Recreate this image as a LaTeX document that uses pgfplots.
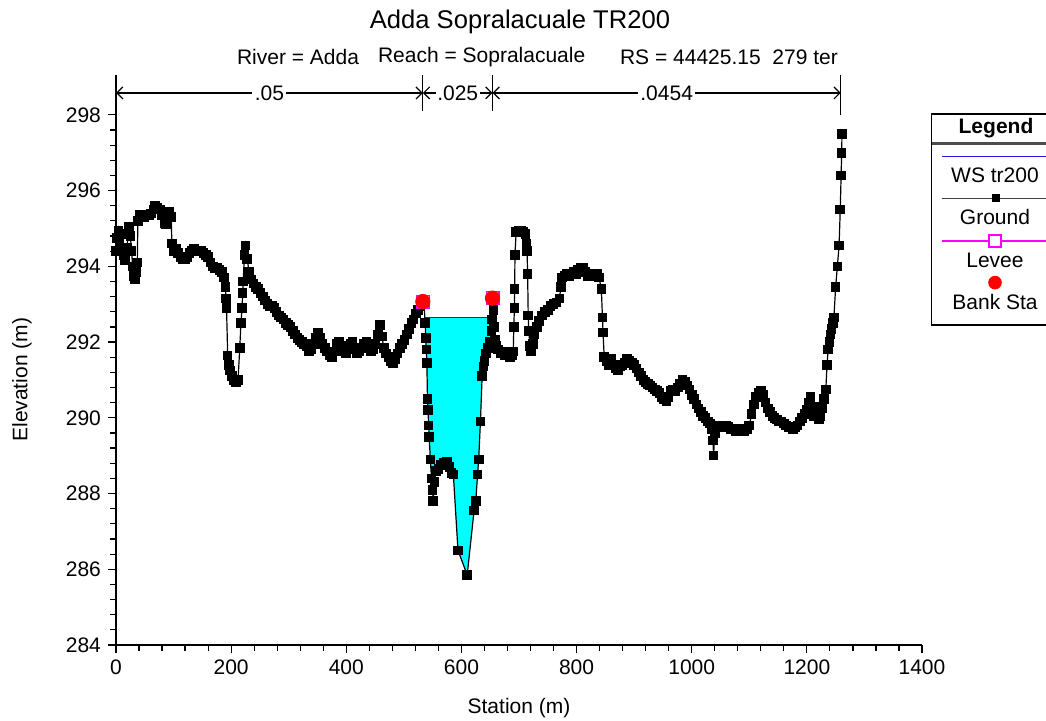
\documentclass[border=0pt]{standalone}
\usepackage{fontspec}
\setmainfont{Liberation Sans}
\usepackage{pgfplots}
\usepackage{pgfplotstable}
\pgfplotsset{compat=1.18}
\usetikzlibrary{arrows.meta}
\definecolor{wsblue}{RGB}{30,30,230}
\definecolor{watercyan}{RGB}{0,255,255}
\definecolor{leveemag}{RGB}{255,0,255}

\pgfplotstableread{
x y
0 294.40
2 294.75
4 294.95
6 294.60
8 294.85
10 294.50
13 294.30
16 294.15
19 294.50
21 294.85
23 295.05
25 294.80
27 294.40
29 294.00
31 293.75
33 293.65
35 293.85
37 294.10
38 295.20
41 295.35
45 295.30
49 295.30
53 295.35
57 295.35
61 295.40
65 295.50
68 295.60
72 295.55
76 295.50
80 295.35
84 295.15
87 295.10
90 295.40
93 295.45
96 295.30
97 294.60
100 294.40
104 294.45
108 294.35
112 294.25
116 294.20
120 294.20
124 294.25
128 294.35
132 294.40
136 294.45
140 294.40
144 294.40
148 294.40
152 294.35
156 294.30
160 294.25
164 294.10
168 294.00
172 293.95
176 293.95
180 293.90
184 293.85
188 293.70
190 293.45
191 293.15
192 292.90
194 291.65
196 291.40
198 291.25
201 291.10
204 291.00
208 290.95
212 291.00
215 291.85
217 292.50
219 292.90
220 293.30
221 293.60
223 294.30
225 294.55
228 294.20
231 293.85
235 293.65
239 293.55
243 293.45
247 293.40
251 293.30
255 293.20
259 293.10
263 293.00
267 292.95
271 292.95
275 292.90
279 292.80
283 292.70
287 292.65
291 292.60
295 292.50
299 292.45
303 292.40
307 292.30
311 292.20
315 292.10
319 292.05
323 292.00
327 291.95
331 291.90
335 291.75
339 291.80
343 291.95
347 292.10
351 292.25
355 292.10
359 291.95
363 291.85
367 291.75
371 291.65
375 291.60
379 291.75
383 291.95
387 292.00
391 291.90
395 291.75
399 291.70
403 291.80
407 291.95
411 292.00
415 291.85
419 291.70
423 291.75
427 291.85
431 291.95
435 292.00
439 291.90
443 291.75
447 291.80
451 291.95
455 292.20
459 292.45
462 292.15
465 291.85
469 291.70
473 291.60
477 291.50
481 291.45
485 291.55
489 291.70
493 291.85
497 291.95
501 292.05
505 292.20
509 292.35
513 292.50
517 292.60
521 292.75
525 292.85
529 292.95
532 293.00
535 293.05
537 292.50
538 292.10
539 291.80
540 291.45
541 290.50
542 290.20
543 289.80
544 289.50
546 288.90
548 288.40
550 288.10
551 287.80
553 288.30
556 288.60
560 288.65
565 288.75
570 288.80
575 288.85
579 288.70
583 288.55
586 288.50
594 286.50
610 285.85
622 287.55
625 287.80
628 288.50
630 288.90
633 289.90
636 291.10
638 291.35
640 291.50
643 291.70
646 291.85
650 292.00
652 292.30
653 292.60
655 293.15
656 292.85
657 292.40
658 292.05
661 291.90
664 291.80
668 291.70
672 291.75
676 291.65
680 291.70
684 291.60
688 291.65
690 291.75
691 292.40
692 292.90
692.5 293.40
693 294.30
695 294.90
699 294.95
703 294.95
707 294.90
711 294.85
713 294.60
714 294.40
715 293.80
716 292.70
717 292.30
719 291.90
721 291.75
724 291.95
727 292.20
731 292.40
735 292.55
740 292.70
745 292.80
750 292.85
755 292.95
760 293.00
765 293.05
770 293.15
773 293.45
775 293.70
779 293.75
783 293.80
787 293.75
791 293.80
795 293.85
799 293.80
803 293.90
807 293.95
811 293.95
815 293.85
819 293.75
823 293.80
827 293.75
831 293.80
835 293.80
839 293.70
843 293.40
845 292.65
846 292.25
848 291.60
852 291.50
856 291.40
860 291.55
864 291.40
868 291.30
872 291.25
876 291.35
880 291.40
884 291.45
888 291.55
892 291.50
896 291.45
900 291.40
904 291.30
908 291.20
912 291.10
916 291.00
920 290.95
924 290.90
928 290.85
932 290.80
936 290.75
940 290.70
944 290.65
948 290.55
952 290.50
956 290.45
960 290.55
964 290.70
968 290.75
972 290.70
976 290.80
980 290.90
984 291.00
988 290.95
992 290.85
996 290.75
1000 290.60
1004 290.50
1008 290.35
1012 290.25
1016 290.15
1020 290.05
1024 290.00
1028 289.90
1032 289.85
1035 289.70
1037 289.40
1038 289.00
1040 289.60
1044 289.80
1048 289.80
1052 289.75
1056 289.75
1060 289.80
1064 289.75
1068 289.70
1072 289.70
1076 289.65
1080 289.70
1084 289.65
1088 289.70
1092 289.65
1096 289.70
1100 289.80
1104 290.10
1108 290.35
1112 290.55
1116 290.65
1120 290.70
1124 290.60
1128 290.40
1132 290.25
1136 290.15
1140 290.05
1144 290.00
1148 289.95
1152 289.90
1156 289.90
1160 289.85
1164 289.80
1168 289.75
1172 289.75
1176 289.70
1180 289.75
1184 289.80
1188 289.90
1192 290.00
1196 290.10
1200 290.20
1203 290.40
1206 290.55
1209 290.25
1212 290.05
1215 290.30
1218 290.10
1221 289.95
1224 290.05
1227 290.25
1230 290.50
1233 290.75
1235 291.40
1237 291.80
1239 292.00
1241 292.20
1243 292.35
1245 292.50
1247 292.65
1250 293.45
1253 294.00
1256 294.55
1258 295.50
1259.5 296.40
1260.5 297.00
1261 297.50
}\ground

\pgfplotstableread{
x y
536.4 292.65
537 292.50
538 292.10
539 291.80
540 291.45
541 290.50
542 290.20
543 289.80
544 289.50
546 288.90
548 288.40
550 288.10
551 287.80
553 288.30
556 288.60
560 288.65
565 288.75
570 288.80
575 288.85
579 288.70
583 288.55
586 288.50
594 286.50
610 285.85
622 287.55
625 287.80
628 288.50
630 288.90
633 289.90
636 291.10
638 291.35
640 291.50
643 291.70
646 291.85
650 292.00
652 292.30
653.2 292.65
}\water

\begin{document}
\begin{tikzpicture}[font=\fontsize{10.5}{12.6}\selectfont]
\begin{axis}[
  scale only axis, width=403pt, height=284pt,
  at={(0pt,0pt)}, anchor=south west,
  xmin=0, xmax=1400, ymin=284, ymax=299,
  axis lines*=left,
  axis line style={line width=0.75pt},
  xtick={0,200,...,1400}, ytick={284,286,...,298},
  minor x tick num=4, minor y tick num=4,
  tick align=outside,
  major tick length=4pt, minor tick length=2.8pt,
  tick style={black, line width=0.6pt},
  /pgf/number format/assume math mode=true,
  /pgf/number format/set thousands separator={},
  xlabel={Station (m)}, ylabel={Elevation (m)},
  xlabel style={at={(axis description cs:0.5,-0.111)}, anchor=center},
  ylabel style={at={(axis description cs:-0.1166,0.467)}, anchor=center},
  clip=false,
]
% water
\addplot[draw=none, fill=watercyan] table[x=x,y=y] {\water} -- cycle;
\addplot[wsblue, line width=0.8pt] coordinates {(536.4,292.65) (653.2,292.65)};
% ground
\addplot[black, line width=0.6pt, mark=square*, mark size=2.1pt, mark options={solid}] table[x=x,y=y] {\ground};
% levee + bank stations
\addplot[only marks, leveemag, mark=square, mark size=3.2pt, mark options={line width=0.6pt}] coordinates {(533,293.07) (654,293.16)};
\addplot[only marks, red, mark=*, mark size=3.6pt] coordinates {(533,293.07) (654,293.16)};
% n-value bracket
\draw[line width=0.6pt] (axis cs:0,298.1) -- (axis cs:0,299.05);
\draw[line width=0.6pt] (axis cs:533,298.1) -- (axis cs:533,299.05);
\draw[line width=0.6pt] (axis cs:654,298.1) -- (axis cs:654,299.05);
\draw[line width=0.6pt] (axis cs:1259,298.0) -- (axis cs:1259,299.05);
\draw[{Straight Barb[length=3pt,width=6pt]}-{Straight Barb[length=3pt,width=6pt]}, line width=0.6pt] (axis cs:0,298.58) -- (axis cs:533,298.58) node[midway, fill=white, inner sep=1.2pt] {.05};
\draw[{Straight Barb[length=3pt,width=6pt]}-{Straight Barb[length=3pt,width=6pt]}, line width=0.6pt] (axis cs:533,298.58) -- (axis cs:654,298.58) node[midway, fill=white, inner sep=0.8pt] {.025};
\draw[{Straight Barb[length=3pt,width=6pt]}-{Straight Barb[length=3pt,width=6pt]}, line width=0.6pt] (axis cs:654,298.58) -- (axis cs:1259,298.58) node[midway, fill=white, inner sep=1.2pt] {.0454};
\end{axis}
% titles
\node[font=\fontsize{12.8}{15}\selectfont] at (202pt,311.5pt) {Adda Sopralacuale TR200};
\node[anchor=west] at (57pt,294pt) {River = Adda};
\node[anchor=west] at (127.5pt,294pt) {Reach = Sopralacuale};
\node[anchor=west] at (248.5pt,294pt) {RS = 44425.15\ \ 279 ter};
% legend
\draw[line width=0.6pt] (407.8pt,160pt) rectangle (480pt,265.5pt);
\node[font=\fontsize{10.5}{12.6}\selectfont\bfseries] at (440pt,258.5pt) {Legend};
\draw[line width=1.1pt, black!70] (407.8pt,250.8pt) -- (480pt,250.8pt);
\draw[wsblue, line width=0.8pt] (412.8pt,244.2pt) -- (480pt,244.2pt);
\node at (439.5pt,235pt) {WS tr200};
\draw[black!75, line width=0.6pt] (412.8pt,223.3pt) -- (480pt,223.3pt);
\fill[black] (438.2pt,221.3pt) rectangle (442.2pt,225.3pt);
\node at (439.5pt,213.8pt) {Ground};
\draw[leveemag, line width=0.6pt] (412.8pt,202pt) -- (480pt,202pt);
\draw[leveemag, line width=0.6pt, fill=white] (436.5pt,199pt) rectangle (442.5pt,205pt);
\node at (439.5pt,192.5pt) {Levee};
\fill[red] (439.5pt,181.2pt) circle (3.4pt);
\node at (439.5pt,171.7pt) {Bank Sta};
\pgfresetboundingbox
\path[use as bounding box] (-58pt,-37.5pt) rectangle (465pt,322.5pt);
\end{tikzpicture}
\end{document}
